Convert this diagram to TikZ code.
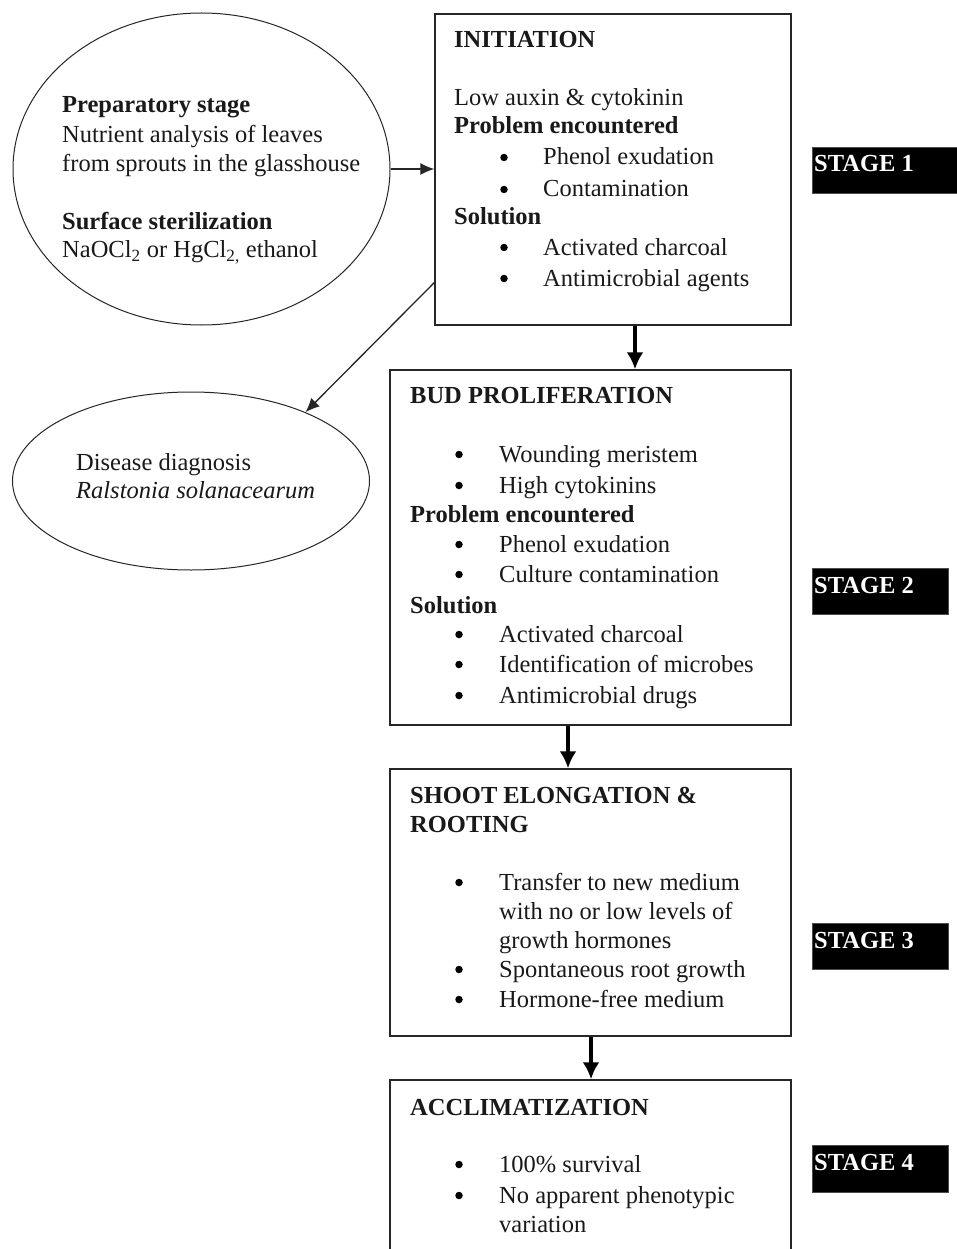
\documentclass[tikz,border=0pt]{standalone}
\usepackage{fontspec}
\setmainfont{Liberation Serif}
\usetikzlibrary{shapes.geometric,arrows.meta,calc}
\begin{document}
\begin{tikzpicture}[x=1pt,y=-1pt,
  box/.style={draw=black!85, line width=1.4pt, rectangle, inner sep=0pt},
  oval/.style={draw=black!85, line width=1pt, ellipse, inner sep=0pt},
  txt/.style={anchor=base west, inner sep=0pt, font=\fontsize{24.5}{30}\selectfont, text=black!90},
  bul/.style={circle, fill=black, inner sep=0pt, minimum size=7.5pt, yshift=7.5pt},
  stagebox/.style={fill=black, draw=black!70, line width=0.6pt, rectangle, inner sep=0pt},
  stagetxt/.style={anchor=base west, inner sep=0pt, font=\fontsize{24.5}{30}\selectfont\bfseries, text=white},
  thinarrow/.style={draw=black!85, line width=1.3pt, -{Latex[length=14pt,width=12pt]}},
  thickarrow/.style={draw=black, line width=3.5pt, -{Latex[length=17pt,width=17pt]}}
]
\useasboundingbox (0,0) rectangle (957,1249);
\fill[white] (0,0) rectangle (957,1249);

% shapes
\node[oval, minimum width=377pt, minimum height=312pt] (prep) at (201.5,169) {};
\node[oval, minimum width=357pt, minimum height=178pt] (dis) at (191,481) {};
\node[box, minimum width=356pt, minimum height=311pt] (init) at (613,169.5) {};
\node[box, minimum width=401pt, minimum height=355pt] (bud) at (590.5,547.5) {};
\node[box, minimum width=401pt, minimum height=267pt] (shoot) at (590.5,902.5) {};
\node[box, minimum width=401pt, minimum height=190pt] (accl) at (590.5,1175) {};

% stage labels
\node[stagebox, minimum width=148pt, minimum height=46pt] (s1) at (886,170) {};
\node[stagebox, minimum width=136pt, minimum height=46pt] (s2) at (880,591) {};
\node[stagebox, minimum width=136pt, minimum height=46pt] (s3) at (880,946) {};
\node[stagebox, minimum width=136pt, minimum height=47pt] (s4) at (880,1168.5) {};
\node[stagetxt] (s1t) at (814,172) {STAGE 1};
\node[stagetxt] (s2t) at (814,593) {STAGE 2};
\node[stagetxt] (s3t) at (814,948) {STAGE 3};
\node[stagetxt] (s4t) at (814,1170) {STAGE 4};

% connectors
\draw[thinarrow] (prep.east) -- (prep.east -| init.west);
\coordinate (dstart) at ($(init.north west)!0.862!(init.south west)$);
\draw[thinarrow] (dstart) -- (dis.31);
\coordinate (c1) at (635,0);
\coordinate (c2) at (568,0);
\coordinate (c3) at (591,0);
\draw[thickarrow] (c1 |- init.south) -- (c1 |- bud.north);
\draw[thickarrow] (c2 |- bud.south) -- (c2 |- shoot.north);
\draw[thickarrow] (c3 |- shoot.south) -- (c3 |- accl.north);

% preparatory ellipse text
\node[txt] (p1) at (62,113) {\textbf{Preparatory stage}};
\node[txt] (p2) at (62,143) {Nutrient analysis of leaves};
\node[txt] (p3) at (62,172) {from sprouts in the glasshouse};
\node[txt] (p4) at (62,230) {\textbf{Surface sterilization}};
\node[txt] (p5) at (62,258) {NaOCl\textsubscript{2} or HgCl\textsubscript{2,} ethanol};

% disease ellipse text
\node[txt] (d1) at (76,470) {Disease diagnosis};
\node[txt] (d2) at (76,498) {\textit{Ralstonia solanacearum}};

% initiation text
\node[txt] (i1) at (454,48) {\textbf{INITIATION}};
\node[txt] (i2) at (454,106) {Low auxin \& cytokinin};
\node[txt] (i3) at (454,134) {\textbf{Problem encountered}};
\node[bul] (ib1) at (504,165) {};
\node[txt] (i4) at (543,165) {Phenol exudation};
\node[bul] (ib2) at (504,197) {};
\node[txt] (i5) at (543,197) {Contamination};
\node[txt] (i6) at (454,225) {\textbf{Solution}};
\node[bul] (ib3) at (504,255) {};
\node[txt] (i7) at (543,255) {Activated charcoal};
\node[bul] (ib4) at (504,286) {};
\node[txt] (i8) at (543,286) {Antimicrobial agents};

% bud proliferation text
\node[txt] (b1) at (410,403) {\textbf{BUD PROLIFERATION}};
\node[bul] (bb1) at (459,462) {};
\node[txt] (b2) at (499,462) {Wounding meristem};
\node[bul] (bb2) at (459,493) {};
\node[txt] (b3) at (499,493) {High cytokinins};
\node[txt] (b4) at (410,522) {\textbf{Problem encountered}};
\node[bul] (bb3) at (459,552) {};
\node[txt] (b5) at (499,552) {Phenol exudation};
\node[bul] (bb4) at (459,582) {};
\node[txt] (b6) at (499,582) {Culture contamination};
\node[txt] (b7) at (410,613) {\textbf{Solution}};
\node[bul] (bb5) at (459,642) {};
\node[txt] (b8) at (499,642) {Activated charcoal};
\node[bul] (bb6) at (459,672) {};
\node[txt] (b9) at (499,672) {Identification of microbes};
\node[bul] (bb7) at (459,703) {};
\node[txt] (b10) at (499,703) {Antimicrobial drugs};

% shoot elongation text
\node[txt] (e1) at (410,803) {\textbf{SHOOT ELONGATION \&}};
\node[txt] (e2) at (410,832) {\textbf{ROOTING}};
\node[bul] (eb1) at (459,890) {};
\node[txt] (e3) at (499,890) {Transfer to new medium};
\node[txt] (e4) at (499,919) {with no or low levels of};
\node[txt] (e5) at (499,948) {growth hormones};
\node[bul] (eb2) at (459,977) {};
\node[txt] (e6) at (499,977) {Spontaneous root growth};
\node[bul] (eb3) at (459,1007) {};
\node[txt] (e7) at (499,1007) {Hormone-free medium};

% acclimatization text
\node[txt] (a1) at (410,1115) {\textbf{ACCLIMATIZATION}};
\node[bul] (ab1) at (459,1172) {};
\node[txt] (a2) at (499,1172) {100\% survival};
\node[bul] (ab2) at (459,1203) {};
\node[txt] (a3) at (499,1203) {No apparent phenotypic};
\node[txt] (a4) at (499,1232) {variation};
\end{tikzpicture}
\end{document}
